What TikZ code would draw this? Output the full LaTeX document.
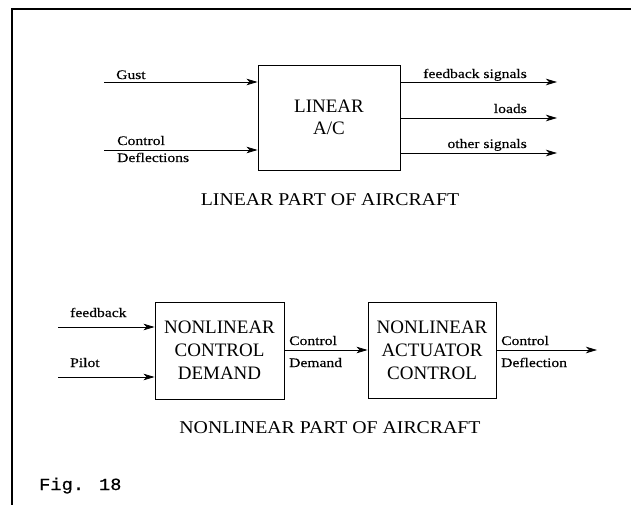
\documentclass[tikz,border=0pt]{standalone}
\usepackage{fontspec}
\setmainfont{Liberation Serif}
\newfontfamily\labelfont[FakeStretch=1.2,FakeBold=0.4]{Liberation Serif}
\newfontfamily\capfont[FakeStretch=1.1]{Liberation Serif}
\newfontfamily\figfont[FakeStretch=1.1,FakeBold=0.5]{Liberation Mono}
\usepackage{tikz}
\usetikzlibrary{arrows.meta,positioning}

\tikzset{
  blockbox/.style={draw,line width=0.9pt,align=center,inner sep=0pt,
    font=\fontsize{19}{23}\selectfont},
  sig/.style={->,line width=0.8pt},
  lbl/.style={font=\labelfont\fontsize{13}{15}\selectfont,inner sep=0pt},
  partcap/.style={font=\capfont\fontsize{18}{21}\selectfont,inner sep=0pt}
}

\begin{document}
\begin{tikzpicture}[x=1pt,y=-1pt,>={Stealth[length=11pt,width=6.5pt,inset=3pt]}]
    \useasboundingbox (0,0) rectangle (631,505);

    % Frame
    \coordinate (TR) at (631,9);
    \coordinate (TL) at (12,9);
    \coordinate (BL) at (12,505);
    \draw[line width=1.3pt] (TR) -- (TL) -- (BL);

    % Linear part
    \node[blockbox,minimum width=142pt,minimum height=105pt,
      font=\fontsize{19}{22}\selectfont] (lin) at (329,117.5) {LINEAR\\A/C};

    \coordinate (gust) at (104,82);
    \coordinate (ctrl) at (104,150);
    \coordinate (fbsig) at (557,82);
    \coordinate (loads) at (557,118);
    \coordinate (other) at (557,153);

    \draw[sig] (gust) -- (lin.west |- gust);
    \draw[sig] (ctrl) -- (lin.west |- ctrl);
    \foreach \pt in {fbsig,loads,other}
        \draw[sig] (lin.east |- \pt) -- (\pt);

    \node[lbl,anchor=base west] (gustlbl) at (116,79) {Gust};
    \node[lbl,anchor=base west] (ctrllbl) at (117,145) {Control};
    \node[lbl,anchor=base west] (defllbl) at (117,162) {Deflections};
    \node[lbl,anchor=base east] (fblbl) at (527,78) {feedback signals};
    \node[lbl,anchor=base east] (loadlbl) at (527,113) {loads};
    \node[lbl,anchor=base east] (otherlbl) at (527,148) {other signals};

    \node[partcap,anchor=base] (lincap) at (330,205) {LINEAR PART OF AIRCRAFT};

    % Nonlinear part
    \node[blockbox,minimum width=129pt,minimum height=97pt] (demand)
      at (219.5,350.5) {NONLINEAR\\CONTROL\\DEMAND};
    \node[blockbox,minimum width=128pt,minimum height=96pt] (actuator)
      at (432,350) {NONLINEAR\\ACTUATOR\\CONTROL};

    \coordinate (fbin) at (58,327);
    \coordinate (pilot) at (58,377);
    \coordinate (deflout) at (597,350);

    \draw[sig] (fbin) -- (demand.west |- fbin);
    \draw[sig] (pilot) -- (demand.west |- pilot);
    \draw[sig] (demand.east |- deflout) -- (actuator.west |- deflout);
    \draw[sig] (actuator.east |- deflout) -- (deflout);

    \node[lbl,anchor=base west] (fblbl2) at (70,317) {feedback};
    \node[lbl,anchor=base west] (pilotlbl) at (70,367) {Pilot};
    \node[lbl,anchor=base west] (cdlbl1) at (289,345) {Control};
    \node[lbl,anchor=base west] (cdlbl2) at (289,367) {Demand};
    \node[lbl,anchor=base west] (cflbl1) at (501,345) {Control};
    \node[lbl,anchor=base west] (cflbl2) at (501,367) {Deflection};

    \node[partcap,anchor=base] (nlcap) at (330,433) {NONLINEAR PART OF AIRCRAFT};

    % Caption
    \node[font=\figfont\fontsize{17}{20}\selectfont,anchor=base west,inner sep=0pt]
      (fig) at (39,490) {Fig. 18};
\end{tikzpicture}
\end{document}
